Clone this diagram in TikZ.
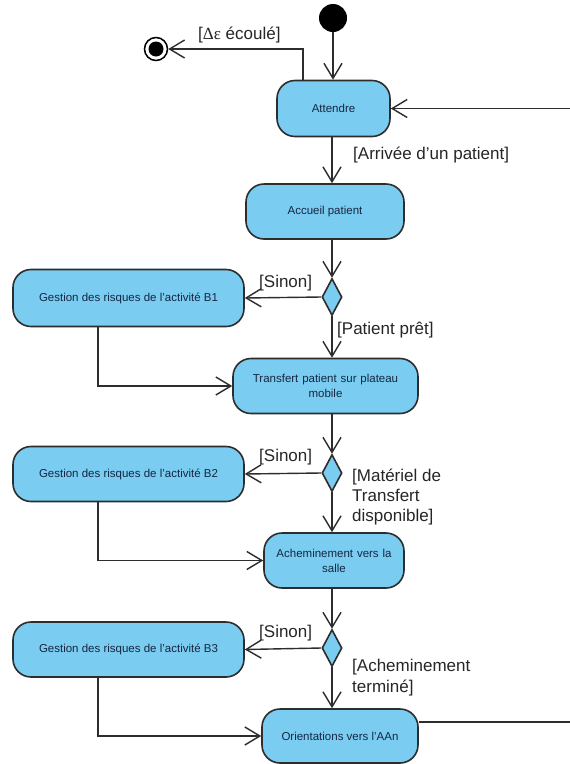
\documentclass[tikz,border=0pt]{standalone}
\usepackage{fontspec}
\setmainfont{Liberation Sans}
\newfontfamily\grkfont{Liberation Serif}
\usetikzlibrary{arrows.meta,shapes.geometric}
\definecolor{boxblue}{RGB}{122,204,240}
\definecolor{boxtext}{RGB}{22,38,66}
\definecolor{linecol}{RGB}{45,45,45}
\begin{document}
\begin{tikzpicture}[x=1pt,y=-1pt,
  act/.style={draw=linecol, line width=1.6pt, fill=boxblue, rounded corners=18pt,
    inner sep=2pt, font=\fontsize{11.5}{15}\selectfont, text=boxtext, align=center},
  dec/.style={diamond, draw=linecol, line width=1.6pt, fill=boxblue,
    minimum width=20pt, minimum height=37pt, inner sep=0pt},
  flow/.style={draw=linecol, line width=1.4pt},
  arr/.style={flow, -{Straight Barb[length=15pt,width=18pt]}},
  lbl/.style={font=\fontsize{17}{20}\selectfont, text=black!85, inner sep=0pt, align=left}]

\fill[white] (0,0) rectangle (570,764);
\useasboundingbox (0,0) rectangle (570,764);

% start / end
\node[circle, fill=black, minimum size=28pt, inner sep=0pt] (init) at (333,18) {};
\node[circle, draw=black, line width=1.5pt, fill=white, minimum size=23pt, inner sep=0pt] (fin) at (156,49) {};
\node[circle, fill=black, minimum size=15pt, inner sep=0pt] (fincore) at (fin.center) {};

% activities
\node[act, minimum width=113pt, minimum height=56pt] (att) at (333.5,108.5) {Attendre};
\node[act, minimum width=158pt, minimum height=55pt] (acc) at (325,211.5) {Accueil patient};
\node[act, minimum width=231pt, minimum height=57pt] (b1) at (128.5,298) {Gestion des risques de l'activité B1};
\node[act, minimum width=185pt, minimum height=55pt, text width=170pt] (tra) at (325.5,386) {Transfert patient sur plateau\\mobile};
\node[act, minimum width=231pt, minimum height=55pt] (b2) at (128.5,474) {Gestion des risques de l'activité B2};
\node[act, minimum width=140pt, minimum height=55pt, text width=130pt] (ach) at (334,560.5) {Acheminement vers la\\salle};
\node[act, minimum width=231pt, minimum height=55pt] (b3) at (128.5,649.5) {Gestion des risques de l'activité B3};
\node[act, minimum width=156pt, minimum height=54pt] (ori) at (340,736) {Orientations vers l'AAn};

% decisions
\node[dec] (d1) at (332,297) {};
\node[dec] (d2) at (332,473) {};
\node[dec] (d3) at (332,648) {};

% free ends
\coordinate (rin) at (570,108.5);
\coordinate (rout) at (570,722);

% connectors
\draw[arr] (init) -- (att.north -| init);
\draw[arr] ([xshift=-30.5pt]att.north) |- (fin);
\draw[arr] (rin) -- (att.east);
\draw[arr] (att.south -| d1) -- (acc.north -| d1);
\draw[arr] (acc.south -| d1) -- (d1.north);
\draw[arr] (d1.west) -- (b1.east);
\draw[arr] (d1.south) -- (tra.north -| d1);
\draw[arr] ([xshift=-30.5pt]b1.south) |- (tra.west);
\draw[arr] (tra.south -| d2) -- (d2.north);
\draw[arr] (d2.west) -- (b2.east);
\draw[arr] (d2.south) -- (ach.north -| d2);
\draw[arr] ([xshift=-30.5pt]b2.south) |- (ach.west);
\draw[arr] (ach.south -| d3) -- (d3.north);
\draw[arr] (d3.west) -- (b3.east);
\draw[arr] (d3.south) -- (ori.north -| d3);
\draw[arr] ([xshift=-30.5pt]b3.south) |- (ori.west);
\draw[flow] (ori.east |- rout) -- (rout);

% guards
\node[lbl, anchor=west] (gdelta) at (198,35) {[{\grkfont Δε} écoulé]};
\node[lbl, anchor=west] (garr) at (353,155) {[Arrivée d'un patient]};
\node[lbl, anchor=west] (gs1) at (259,283) {[Sinon]};
\node[lbl, anchor=west] (gpp) at (337,330) {[Patient prêt]};
\node[lbl, anchor=west] (gs2) at (259,457) {[Sinon]};
\node[lbl, anchor=west] (gmat) at (352,497) {[Matériel de\\Transfert\\disponible]};
\node[lbl, anchor=west] (gs3) at (259,633) {[Sinon]};
\node[lbl, anchor=west, font=\fontsize{17}{21}\selectfont] (gach) at (352,677.5) {[Acheminement\\terminé]};
\end{tikzpicture}
\end{document}
